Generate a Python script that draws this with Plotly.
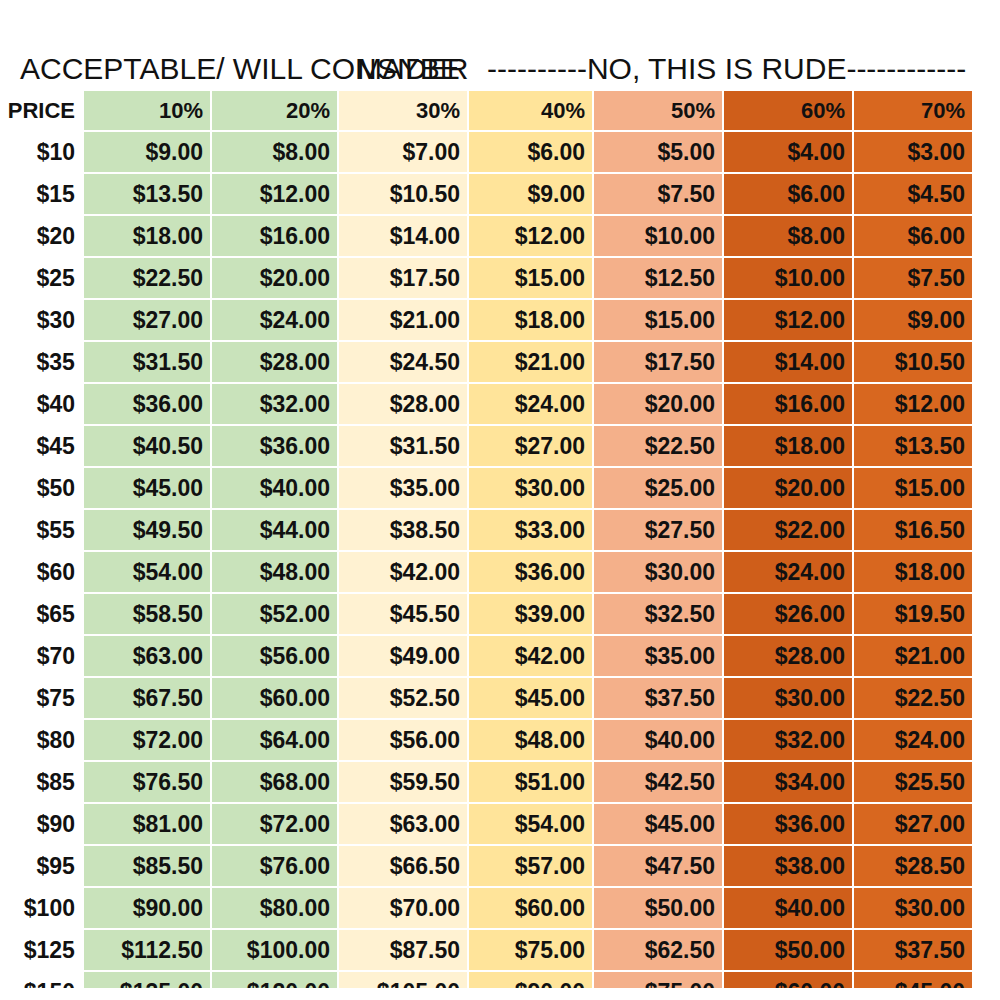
import plotly.graph_objects as go

prices = ["$10","$15","$20","$25","$30","$35","$40","$45","$50","$55","$60","$65","$70","$75","$80","$85","$90","$95","$100","$125","$150","$175","$200"]
col_headers = ["PRICE","10%","20%","30%","40%","50%","60%","70%"]
p10 = ["$9.00","$13.50","$18.00","$22.50","$27.00","$31.50","$36.00","$40.50","$45.00","$49.50","$54.00","$58.50","$63.00","$67.50","$72.00","$76.50","$81.00","$85.50","$90.00","$112.50","$135.00","$157.50","$180.00"]
p20 = ["$8.00","$12.00","$16.00","$20.00","$24.00","$28.00","$32.00","$36.00","$40.00","$44.00","$48.00","$52.00","$56.00","$60.00","$64.00","$68.00","$72.00","$76.00","$80.00","$100.00","$120.00","$140.00","$160.00"]
p30 = ["$7.00","$10.50","$14.00","$17.50","$21.00","$24.50","$28.00","$31.50","$35.00","$38.50","$42.00","$45.50","$49.00","$52.50","$56.00","$59.50","$63.00","$66.50","$70.00","$87.50","$105.00","$122.50","$140.00"]
p40 = ["$6.00","$9.00","$12.00","$15.00","$18.00","$21.00","$24.00","$27.00","$30.00","$33.00","$36.00","$39.00","$42.00","$45.00","$48.00","$51.00","$54.00","$57.00","$60.00","$75.00","$90.00","$105.00","$120.00"]
p50 = ["$5.00","$7.50","$10.00","$12.50","$15.00","$17.50","$20.00","$22.50","$25.00","$27.50","$30.00","$32.50","$35.00","$37.50","$40.00","$42.50","$45.00","$47.50","$50.00","$62.50","$75.00","$87.50","$100.00"]
p60 = ["$4.00","$6.00","$8.00","$10.00","$12.00","$14.00","$16.00","$18.00","$20.00","$22.00","$24.00","$26.00","$28.00","$30.00","$32.00","$34.00","$36.00","$38.00","$40.00","$50.00","$60.00","$70.00","$80.00"]
p70 = ["$3.00","$4.50","$6.00","$7.50","$9.00","$10.50","$12.00","$13.50","$15.00","$16.50","$18.00","$19.50","$21.00","$22.50","$24.00","$25.50","$27.00","$28.50","$30.00","$37.50","$45.00","$52.50","$60.00"]

colors = ["white","#c9e3bb","#c9e3bb","#fff2d2","#ffe49a","#f4b08a","#cf5e1a","#d8671f"]
widths = [75,128,127,130,125,130,130,120]
font = "Liberation Sans Narrow, Arial Narrow, sans-serif"

cols = [prices,p10,p20,p30,p40,p50,p60,p70]
fig = go.Figure(go.Table(
    domain=dict(x=[0,0.965], y=[0.02,0.918]),
    columnwidth=widths,
    header=dict(values=["<b>%s</b>" % h for h in col_headers],
                fill=dict(color=colors), line=dict(color="white", width=2),
                align="right", height=36,
                font=dict(family=font, size=22, color="#111")),
    cells=dict(values=[["<b>%s</b>" % v for v in c] for c in cols],
               fill=dict(color=colors), line=dict(color="white", width=2),
               align="right", height=37.5,
               font=dict(family=font, size=23, color="#111")),
))

tfont = dict(family=font, size=30, color="#111")
fig.add_annotation(x=0.01, y=0.94, xref="paper", yref="paper", xanchor="left", yanchor="middle",
                   text="ACCEPTABLE/ WILL CONSIDER", showarrow=False, font=tfont)
fig.add_annotation(x=0.40, y=0.94, xref="paper", yref="paper", xanchor="center", yanchor="middle",
                   text="MAYBE", showarrow=False, font=tfont)
fig.add_annotation(x=0.718, y=0.94, xref="paper", yref="paper", xanchor="center", yanchor="middle",
                   text="----------NO, THIS IS RUDE------------", showarrow=False, font=tfont)

fig.update_layout(width=1000, height=1000, margin=dict(l=0,r=0,t=0,b=0),
                  paper_bgcolor="white")
fig.write_html("out.html")
